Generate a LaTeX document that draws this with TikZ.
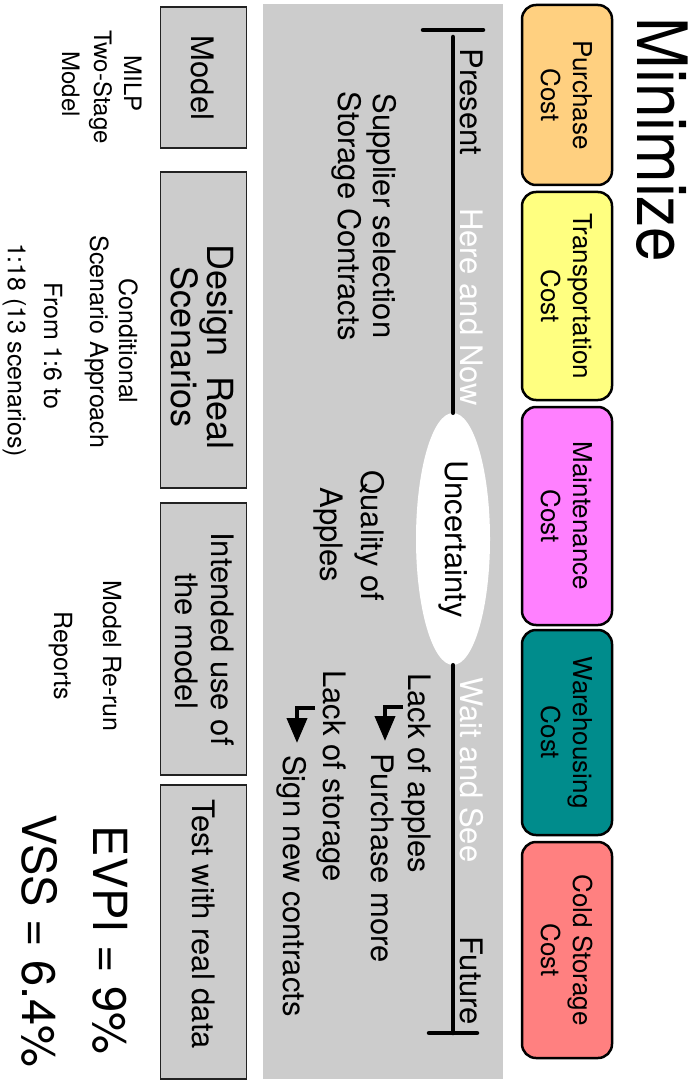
\documentclass[tikz,border=0pt]{standalone}
\usepackage{fontspec}
\setmainfont{TeX Gyre Heros}
\usetikzlibrary{shapes.geometric, arrows.meta}
\definecolor{panelgray}{RGB}{204,204,204}
\definecolor{boxgray}{RGB}{204,204,204}
\definecolor{boxedge}{RGB}{34,34,34}
\definecolor{costPurchase}{RGB}{255,208,128}
\definecolor{costTransport}{RGB}{255,255,128}
\definecolor{costMaint}{RGB}{255,128,255}
\definecolor{costWare}{RGB}{0,140,140}
\definecolor{costCold}{RGB}{255,128,128}

\begin{document}
\begin{tikzpicture}[x=1pt, y=1pt,
  vtext/.style={rotate=-90, inner sep=0pt, anchor=base},
  fs31/.style={font=\fontsize{31}{35}\selectfont},
  fs25/.style={font=\fontsize{25}{30}\selectfont},
  fsbig/.style={font=\fontsize{47}{54}\selectfont},
  costbox/.style={draw=black, line width=2.5pt, rounded corners=14pt,
                  minimum width=90pt, inner sep=0pt},
  costtxt/.style={rotate=-90, inner sep=0pt, align=center,
                  font=\fontsize{26}{32}\selectfont},
  graybox/.style={draw=boxedge, fill=boxgray, line width=1.5pt,
                  minimum width=86pt, inner sep=0pt},
  tline/.style={line width=4.5pt, line cap=round},
  bentarrow/.style={line width=4pt, -{Triangle[length=25pt, width=20pt]}},
]
\useasboundingbox (0,0) rectangle (691,-1083);

% grey band behind the timeline
\node[fill=panelgray, minimum width=240pt, minimum height=1075pt, inner sep=0pt]
  (panel) at (383,-541.5) {};

% title
\node[vtext, yscale=1.12, font=\fontsize{62}{70}\selectfont] (title) at (637,-140) {Minimize};

% cost components
\node[costbox, fill=costPurchase,  minimum height=180pt] (pc) at (567,-95) {};
\node[costbox, fill=costTransport, minimum height=208pt] (tc) at (567,-296) {};
\node[costbox, fill=costMaint,     minimum height=218pt] (mc) at (567,-516) {};
\node[costbox, fill=costWare,      minimum height=205pt] (wc) at (567,-732.5) {};
\node[costbox, fill=costCold,      minimum height=216pt] (cc) at (567,-950) {};
\node[costtxt] (pcT) at (pc.center) {Purchase\\Cost};
\node[costtxt] (tcT) at (tc.center) {Transportation\\Cost};
\node[costtxt] (mcT) at (mc.center) {Maintenance\\Cost};
\node[costtxt] (wcT) at (wc.center) {Warehousing\\Cost};
\node[costtxt] (ccT) at (cc.center) {Cold Storage\\Cost};

% timeline
\coordinate (capTopL) at (423,-30);
\coordinate (capTopR) at (483,-30);
\coordinate (capBotL) at (429,-1033);
\coordinate (capBotR) at (477,-1033);
\coordinate (tlTop) at (453,-37);
\coordinate (tlBot) at (453,-1033);
\node[ellipse, fill=white, minimum width=74pt, minimum height=252pt, inner sep=0pt]
  (unc) at (453,-539) {};
\draw[tline] (capTopL) -- (capTopR);
\draw[tline] (capBotL) -- (capBotR);
\draw[tline] (tlTop) -- (unc.north);
\draw[tline] (unc.south) -- (tlBot);
\node[vtext, fs31, anchor=center] (uncT) at (unc.center) {Uncertainty};

\node[vtext, fs31] (present) at (460,-102) {Present};
\node[vtext, fs31, text=white] (hereNow) at (460,-307) {Here and Now};
\node[vtext, fs31, text=white] (waitSee) at (460,-770) {Wait and See};
\node[vtext, fs31] (future) at (460,-981) {Future};

% first stage / uncertainty / second stage notes
\node[vtext, fs31] (supp1) at (373,-216) {Supplier selection};
\node[vtext, fs31] (supp2) at (338,-216) {Storage Contracts};
\node[vtext, fs31] (qual1) at (361,-536) {Quality of};
\node[vtext, fs31] (qual2) at (320,-535) {Apples};

\node[vtext, fs31, anchor=base west] (lackA) at (408,-673) {Lack of apples};
\node[vtext, fs31, anchor=base west] (buyMore) at (371,-753) {Purchase more};
\node[vtext, fs31, anchor=base west] (lackS) at (323,-670) {Lack of storage};
\node[vtext, fs31, anchor=base west] (signNew) at (283,-755) {Sign new contracts};

\coordinate (a1s) at (403,-707);
\coordinate (a1c) at (385,-707);
\coordinate (a1e) at (385,-741);
\coordinate (a2s) at (315,-708);
\coordinate (a2c) at (297,-708);
\coordinate (a2e) at (297,-743);
\draw[bentarrow] (a1s) -- (a1c) -- (a1e);
\draw[bentarrow] (a2s) -- (a2c) -- (a2e);

% project steps
\node[graybox, minimum height=141pt] (bModel)  at (203.5,-77.5) {};
\node[graybox, minimum height=316pt] (bDesign) at (203.5,-330) {};
\node[graybox, minimum height=272pt] (bUse)    at (203.5,-639) {};
\node[graybox, minimum height=294pt] (bTest)   at (203.5,-932) {};
\node[vtext, fs31] (bModelT) at (191,-78) {Model};
\node[vtext, font=\fontsize{36}{40}\selectfont] (bDesignT1) at (207,-347) {Design\ \ Real};
\node[vtext, font=\fontsize{36}{40}\selectfont] (bDesignT2) at (171,-347) {Scenarios};
\node[vtext, fs31] (bUseT1) at (211,-639) {Intended use of};
\node[vtext, fs31] (bUseT2) at (175,-641) {the model};
\node[vtext, fs31] (bTestT) at (192,-924) {Test with real data};

% notes under each step
\node[vtext, font=\fontsize{24}{28}\selectfont] (milp1) at (124,-84) {MILP};
\node[vtext, font=\fontsize{24}{28}\selectfont] (milp2) at (94,-87) {Two-Stage};
\node[vtext, font=\fontsize{24}{28}\selectfont] (milp3) at (62,-84) {Model};
\node[vtext, fs25] (cond1) at (119,-341) {Conditional};
\node[vtext, fs25] (cond2) at (90,-342) {Scenario Approach};
\node[vtext, fs25] (cond3) at (44,-346) {From 1:6 to};
\node[vtext, fs25] (cond4) at (8,-350) {1:18 (13 scenarios)};
\node[vtext, fs25] (rerun) at (103,-656) {Model Re-run};
\node[vtext, fs25] (reports) at (54,-656) {Reports};
\node[vtext, fsbig] (evpi) at (93,-940) {EVPI = 9\%};
\node[vtext, fsbig] (vss) at (22,-941) {VSS = 6.4\%};
\end{tikzpicture}
\end{document}
